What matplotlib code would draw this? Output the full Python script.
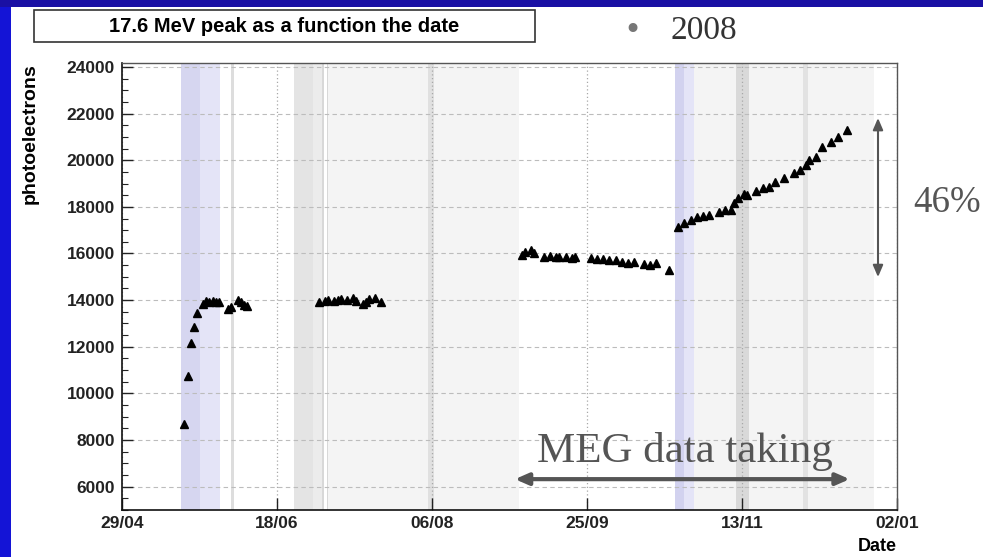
import matplotlib
matplotlib.use("Agg")
import matplotlib.pyplot as plt
import matplotlib.dates as mdates
from matplotlib.patches import Rectangle
import pandas as pd
import numpy as np

# 17.6 MeV peak position (photoelectrons) vs. run date, 2008
run_dates = [
    "2008-05-19", "2008-05-20", "2008-05-21", "2008-05-22", "2008-05-23",
    "2008-05-25", "2008-05-26", "2008-05-27", "2008-05-28", "2008-05-29", "2008-05-30",
    "2008-06-02", "2008-06-03", "2008-06-05", "2008-06-06", "2008-06-07", "2008-06-08",
    "2008-07-01", "2008-07-03", "2008-07-04", "2008-07-06", "2008-07-07", "2008-07-08",
    "2008-07-10", "2008-07-12", "2008-07-13", "2008-07-15", "2008-07-16", "2008-07-17",
    "2008-07-19", "2008-07-21",
    "2008-09-04", "2008-09-05", "2008-09-07", "2008-09-08", "2008-09-11", "2008-09-13",
    "2008-09-15", "2008-09-16", "2008-09-18", "2008-09-20", "2008-09-21", "2008-09-26",
    "2008-09-28", "2008-09-30", "2008-10-02", "2008-10-04", "2008-10-06", "2008-10-08",
    "2008-10-10", "2008-10-13", "2008-10-15", "2008-10-17", "2008-10-21",
    "2008-10-24", "2008-10-26", "2008-10-28", "2008-10-30", "2008-11-01", "2008-11-03",
    "2008-11-06", "2008-11-08", "2008-11-10", "2008-11-11", "2008-11-12", "2008-11-14",
    "2008-11-15", "2008-11-18", "2008-11-20", "2008-11-22", "2008-11-24", "2008-11-27",
    "2008-11-30", "2008-12-02", "2008-12-04", "2008-12-05", "2008-12-07", "2008-12-09",
    "2008-12-12", "2008-12-14", "2008-12-17",
]
peak_pe = [
    8700, 10750, 12150, 12850, 13450,
    13850, 13950, 13900, 13950, 13900, 13900,
    13600, 13700, 14000, 13900, 13800, 13750,
    13900, 13950, 14000, 13950, 14000, 14050,
    14000, 14100, 13950, 13850, 13900, 14050,
    14100, 13900,
    15950, 16050, 16150, 16000, 15850, 15900,
    15850, 15850, 15850, 15800, 15850, 15800,
    15750, 15750, 15700, 15700, 15650, 15600,
    15650, 15550, 15500, 15600, 15300,
    17150, 17300, 17450, 17550, 17600, 17650,
    17800, 17850, 17850, 18150, 18400, 18550,
    18500, 18700, 18800, 18850, 19050, 19250,
    19450, 19600, 19800, 20000, 20150, 20550,
    20800, 21000, 21300,
]

# shaded periods (start, end)
band_start = ["2008-05-18", "2008-05-24", "2008-06-03", "2008-07-04", "2008-06-23",
              "2008-06-29", "2008-07-02", "2008-07-03 18:00", "2008-08-05",
              "2008-10-29", "2008-10-23", "2008-10-26", "2008-11-11 12:00", "2008-12-03"]
band_end = ["2008-05-24", "2008-05-30 12:00", "2008-06-04", "2008-09-03", "2008-06-29",
            "2008-07-02", "2008-07-02 16:00", "2008-07-04", "2008-08-07",
            "2008-12-25 12:00", "2008-10-26", "2008-10-29", "2008-11-15 12:00", "2008-12-04 14:00"]
band_color = ["#d6d6f0", "#e4e4f7", "#dddddd", "#f4f4f4", "#e4e4e4",
              "#ececec", "#d8d8d8", "#d8d8d8", "#e0e0e0",
              "#f4f4f4", "#d2d2ef", "#e4e4f7", "#d9d9d9", "#e2e2e2"]

date_labels = ["29/04", "18/06", "06/08", "25/09", "13/11", "02/01"]
axis_start = "2008-04-29"
axis_end = "2009-01-02"

fig = plt.figure(figsize=(9.83, 5.57), dpi=100)
fig.patch.set_facecolor("white")

# slide frame
fig.patches.append(Rectangle((0, 0), 0.0115, 1, transform=fig.transFigure,
                             facecolor="#1414d6", edgecolor="none", zorder=0))
fig.patches.append(Rectangle((0, 0.987), 1, 0.013, transform=fig.transFigure,
                             facecolor="#1a10a4", edgecolor="none", zorder=0))

ax = fig.add_axes([0.1241, 0.0844, 0.7884, 0.8025])

x = pd.to_datetime(run_dates)
for s, e, c in zip(band_start, band_end, band_color):
    ax.axvspan(pd.Timestamp(s), pd.Timestamp(e), color=c, lw=0, zorder=0)

ax.plot(x, peak_pe, linestyle="none", marker="^", color="black", ms=6, zorder=3)

x0, x1 = pd.Timestamp(axis_start), pd.Timestamp(axis_end)
ax.set_xlim(x0, x1)
ax.set_ylim(5000, 24170)
ticks = np.linspace(mdates.date2num(x0), mdates.date2num(x1), len(date_labels))
ax.set_xticks(ticks)
ax.set_xticklabels(date_labels)
ax.set_yticks(np.arange(6000, 24001, 2000))
ax.set_yticks(np.arange(5000, 24001, 500), minor=True)

tick_font = dict(family="Liberation Sans", weight="bold", size=12.5)
for lab in ax.get_xticklabels() + ax.get_yticklabels():
    lab.set_fontproperties(matplotlib.font_manager.FontProperties(**tick_font))

ax.tick_params(axis="both", which="both", direction="in", colors="#222")
ax.tick_params(axis="y", which="major", length=8, width=1, pad=5)
ax.tick_params(axis="y", which="minor", length=4, width=0.8)
ax.tick_params(axis="x", which="major", length=9, width=1, pad=4)
ax.tick_params(axis="x", which="minor", length=0)
ax.tick_params(top=False, right=False)

ax.grid(True, which="major", axis="y", color="#bcbcbc", linestyle=(0, (4, 3)), lw=0.8, zorder=1)
ax.grid(True, which="major", axis="x", color="#a8a8a8", linestyle=(0, (1, 2)), lw=0.9, zorder=1)
ax.set_axisbelow(True)

for side in ["left", "bottom"]:
    ax.spines[side].set_color("#111")
    ax.spines[side].set_linewidth(1.2)
for side in ["top", "right"]:
    ax.spines[side].set_color("#555")
    ax.spines[side].set_linewidth(1.0)

ax.set_ylabel("photoelectrons", family="Liberation Sans", weight="bold", size=14)
ax.yaxis.set_label_coords(-0.108, 1.0)
ax.yaxis.label.set_va("bottom")
ax.yaxis.label.set_ha("right")
ax.set_xlabel("Date", family="Liberation Sans", weight="bold", size=13)
ax.xaxis.set_label_coords(1.0, -0.063)
ax.xaxis.label.set_ha("right")
ax.xaxis.label.set_va("top")

# title box
fig.patches.append(Rectangle((34 / 983, 1 - 42 / 557), 501 / 983, 32 / 557,
                             transform=fig.transFigure, facecolor="white",
                             edgecolor="#333", lw=1.2, zorder=2))
fig.text(284 / 983, 1 - 26 / 557, "17.6 MeV peak as a function the date",
         family="Liberation Sans", weight="bold", size=14.5,
         ha="center", va="center", zorder=3)

# slide annotations
fig.text(632 / 983, 1 - 30 / 557, "\u2022", color="#777", size=22,
         ha="center", va="center", family="DejaVu Sans")
fig.text(671 / 983, 1 - 31 / 557, "2008", color="#333", size=24,
         family="Liberation Serif", ha="left", va="center")
fig.text(913 / 983, 1 - 203 / 557, "46%", color="#555", size=26.5,
         family="Liberation Serif", ha="left", va="center")

ax.annotate("", xy=(0.9755, 0.877), xytext=(0.9755, 0.521), xycoords="axes fraction",
            arrowprops=dict(arrowstyle="<|-|>,head_length=0.7,head_width=0.3",
                            color="#555", lw=1.5, shrinkA=0, shrinkB=0))
ax.annotate("", xy=(0.507, 0.069), xytext=(0.939, 0.069), xycoords="axes fraction",
            arrowprops=dict(arrowstyle="<|-|>,head_length=0.8,head_width=0.35",
                            color="#555", lw=3, shrinkA=0, shrinkB=0))
ax.text(0.7265, 0.107, "MEG data taking", transform=ax.transAxes, color="#555",
        size=31, family="Liberation Serif", ha="center", va="baseline")

fig.savefig("out.png", dpi=100)
